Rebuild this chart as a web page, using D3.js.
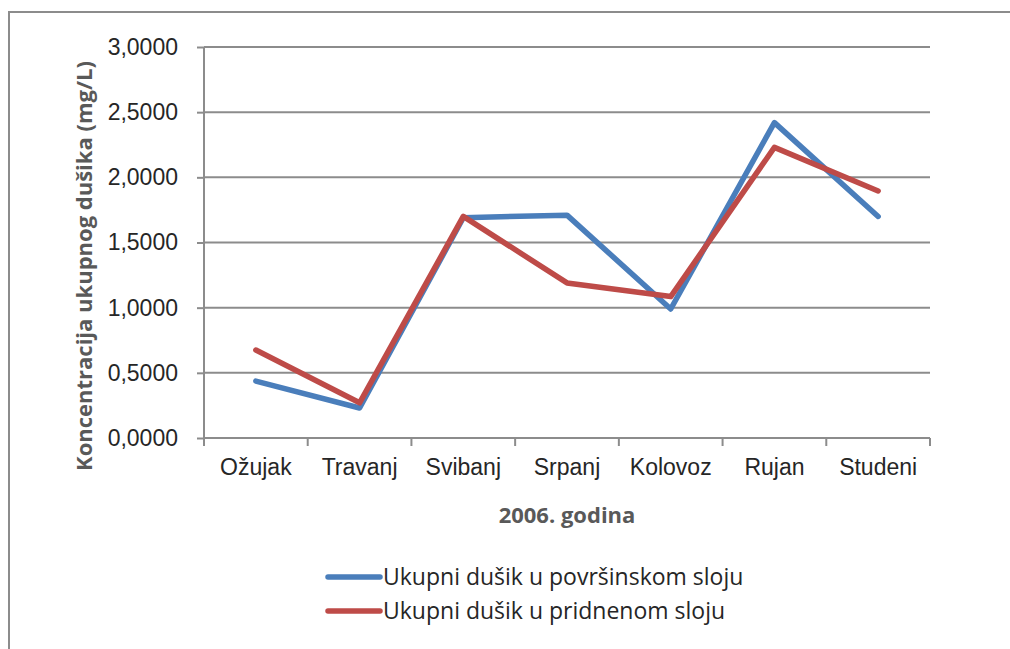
<!DOCTYPE html>
<html>
<head>
<meta charset="utf-8">
<script src="https://cdn.jsdelivr.net/npm/d3@7"></script>
<style>
  body { margin: 0; background: #fff; }
  svg { display: block; font-family: "Open Sans", sans-serif; }
</style>
</head>
<body>
<script>
// data
const months = ["Ožujak", "Travanj", "Svibanj", "Srpanj", "Kolovoz", "Rujan", "Studeni"];
const surface = [0.437, 0.23, 1.69, 1.71, 0.99, 2.42, 1.70];
const bottom = [0.675, 0.27, 1.70, 1.19, 1.085, 2.23, 1.895];
const yTicks = [0, 0.5, 1, 1.5, 2, 2.5, 3];
const seriesNames = ["Ukupni dušik u površinskom sloju", "Ukupni dušik u pridnenom sloju"];
const seriesColors = ["#4a7ebb", "#be4b48"];

const width = 1010, height = 649;
const plotLeft = 204, plotRight = 930, plotTop = 47, plotBottom = 438;
const fontSize = 23, titleSize = 22;

const svg = d3.select("body").append("svg")
              .attr("width", width)
              .attr("height", height);

// outer chart border
svg.append("rect")
   .attr("x", 9).attr("y", 12)
   .attr("width", 1020).attr("height", 660)
   .attr("fill", "none")
   .attr("stroke", "#8c8c8c")
   .attr("stroke-width", 2);

const x = d3.scaleBand().domain(months).range([plotLeft, plotRight]);
const y = d3.scaleLinear().domain([0, 3]).range([plotBottom, plotTop]);

// gridlines
svg.append("g")
   .selectAll("line")
   .data(yTicks.slice(1))
   .enter().append("line")
   .attr("x1", plotLeft).attr("x2", plotRight)
   .attr("y1", d => y(d)).attr("y2", d => y(d))
   .attr("stroke", "#8c8c8c")
   .attr("stroke-width", 2);

// y axis
const yAxis = svg.append("g")
   .attr("transform", `translate(${plotLeft},0)`)
   .call(d3.axisLeft(y).tickValues(yTicks).tickSize(7).tickPadding(19)
           .tickFormat(d => d3.format(".4f")(d).replace(".", ",")));
yAxis.select(".domain").attr("stroke", "#8c8c8c").attr("stroke-width", 2).attr("d", `M0,${plotTop}V${plotBottom}`);
yAxis.selectAll(".tick line").attr("stroke", "#8c8c8c").attr("stroke-width", 2);
yAxis.selectAll(".tick text").attr("font-size", fontSize).attr("fill", "#262626");

// x axis
const xAxis = svg.append("g")
   .attr("transform", `translate(0,${plotBottom})`)
   .call(d3.axisBottom(x).tickSize(0).tickPadding(21));
xAxis.select(".domain").attr("stroke", "#8c8c8c").attr("stroke-width", 2).attr("d", `M${plotLeft},0H${plotRight}`);
xAxis.selectAll(".tick text").attr("font-size", fontSize).attr("fill", "#262626");
xAxis.selectAll(".sep")
   .data(d3.range(months.length + 1))
   .enter().append("line")
   .attr("x1", i => plotLeft + i * x.step()).attr("x2", i => plotLeft + i * x.step())
   .attr("y1", 0).attr("y2", 8)
   .attr("stroke", "#8c8c8c").attr("stroke-width", 2);

// axis titles
svg.append("text")
   .attr("transform", `translate(92,266) rotate(-90)`)
   .attr("text-anchor", "middle")
   .attr("font-size", titleSize).attr("font-weight", "bold")
   .attr("fill", "#595959")
   .text("Koncentracija ukupnog dušika (mg/L)");

svg.append("text")
   .attr("x", 567).attr("y", 523)
   .attr("text-anchor", "middle")
   .attr("font-size", titleSize).attr("font-weight", "bold")
   .attr("fill", "#595959")
   .text("2006. godina");

// lines
const line = d3.line()
   .x((d, i) => x(months[i]) + x.bandwidth() / 2)
   .y(d => y(d));

[surface, bottom].forEach((s, k) => {
  svg.append("path")
     .datum(s)
     .attr("d", line)
     .attr("fill", "none")
     .attr("stroke", seriesColors[k])
     .attr("stroke-width", 5.5)
     .attr("stroke-linejoin", "round")
     .attr("stroke-linecap", "round");
});

// legend
const legend = svg.append("g");
seriesNames.forEach((name, k) => {
  const ly = 577 + k * 34;
  legend.append("line")
        .attr("x1", 328).attr("x2", 380)
        .attr("y1", ly).attr("y2", ly)
        .attr("stroke", seriesColors[k])
        .attr("stroke-width", 5.5)
        .attr("stroke-linecap", "round");
  legend.append("text")
        .attr("x", 383).attr("y", ly + 8)
        .attr("font-size", fontSize)
        .attr("fill", "#262626")
        .text(name);
});
</script>
</body>
</html>
